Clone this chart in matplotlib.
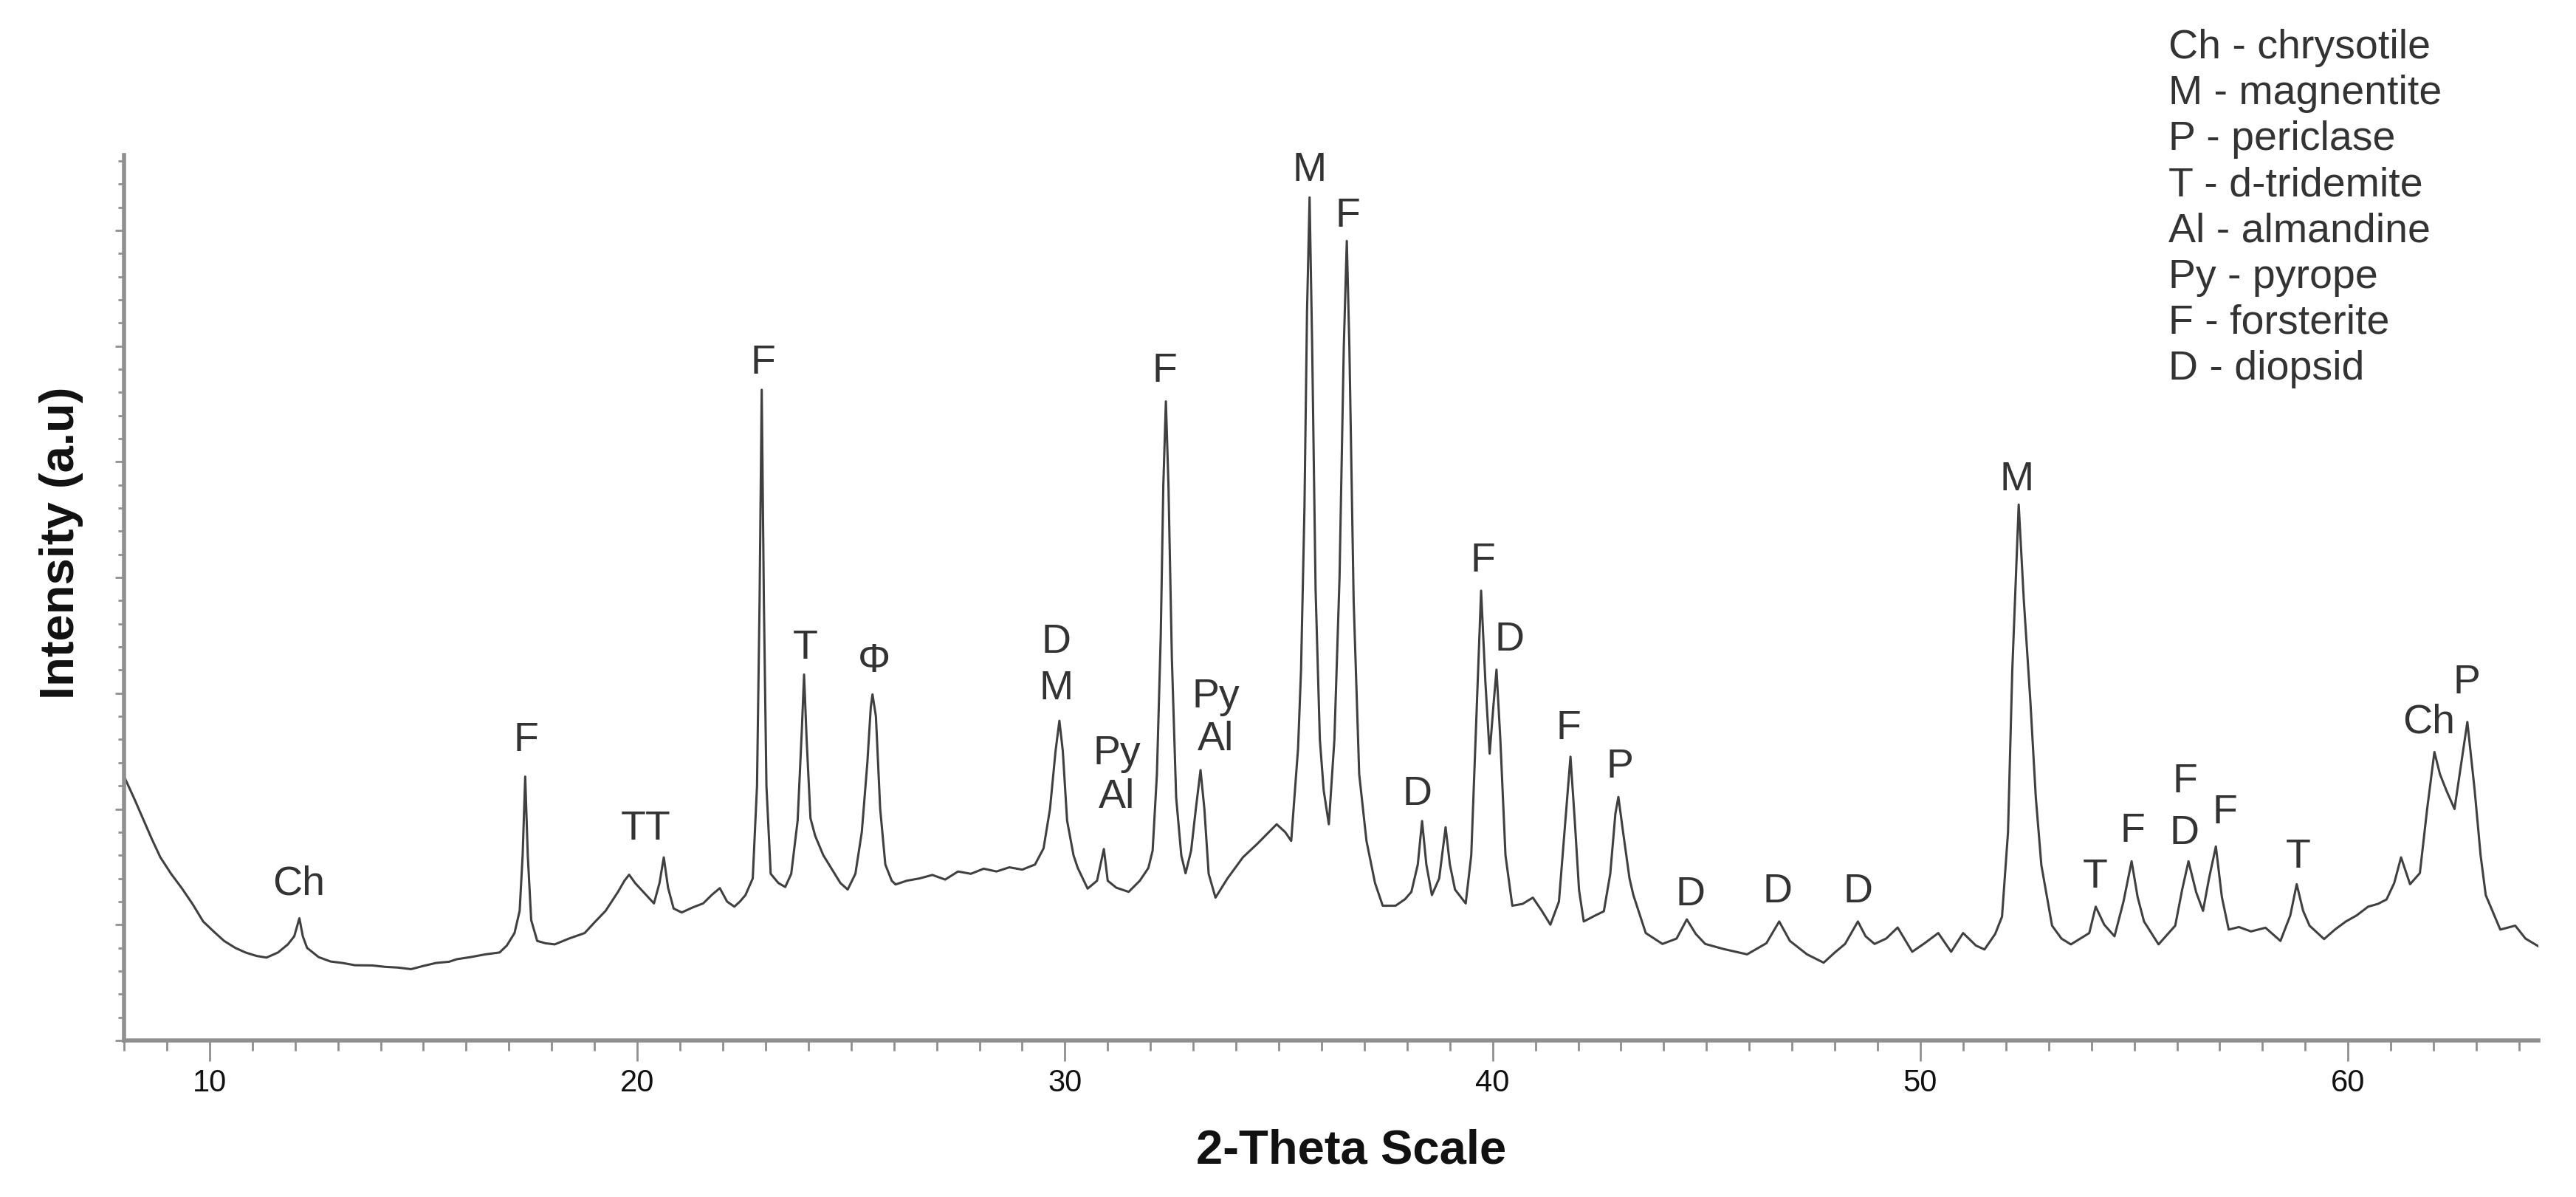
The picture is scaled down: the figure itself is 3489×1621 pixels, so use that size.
import matplotlib
matplotlib.use("Agg")
import matplotlib.pyplot as plt
from matplotlib.ticker import MultipleLocator

# XRD pattern (2-theta in degrees, intensity in a.u.)
two_theta = [
    8.02, 8.25, 8.45, 8.65, 8.85, 9.1, 9.35, 9.6, 9.85, 10.1, 10.34, 10.6, 10.84, 11.1, 11.33,
    11.6, 11.83, 11.98, 12.1, 12.18, 12.28, 12.55, 12.83, 13.1, 13.4, 13.81, 14.1, 14.4, 14.71,
    15.0, 15.3, 15.6, 15.78, 16.1, 16.45, 16.78, 16.95, 17.13, 17.25, 17.32, 17.38, 17.44, 17.52,
    17.66, 17.85, 18.07, 18.4, 18.77, 19.0, 19.26, 19.55, 19.7, 19.81, 19.95, 20.15, 20.39, 20.52,
    20.62, 20.72, 20.85, 21.04, 21.3, 21.54, 21.75, 21.93, 22.1, 22.27, 22.4, 22.53, 22.7, 22.8,
    22.86, 22.91, 22.96, 23.02, 23.12, 23.3, 23.46, 23.6, 23.75, 23.85, 23.9, 23.96, 24.05, 24.16,
    24.35, 24.55, 24.75, 24.92, 25.1, 25.25, 25.38, 25.46, 25.5, 25.58, 25.68, 25.8, 25.95, 26.04,
    26.3, 26.6, 26.9, 27.2, 27.5, 27.8, 28.1, 28.4, 28.7, 29.0, 29.3, 29.5, 29.65, 29.78, 29.87,
    29.95, 30.05, 30.2, 30.3, 30.53, 30.75, 30.91, 31.0, 31.2, 31.49, 31.75, 31.95, 32.05, 32.15,
    32.24, 32.3, 32.36, 32.42, 32.5, 32.6, 32.72, 32.82, 32.95, 33.06, 33.17, 33.26, 33.36, 33.52,
    33.8, 34.16, 34.5, 34.95, 35.15, 35.29, 35.45, 35.52, 35.6, 35.66, 35.72, 35.78, 35.86, 35.96,
    36.05, 36.17, 36.3, 36.42, 36.52, 36.59, 36.65, 36.75, 36.88, 37.05, 37.25, 37.43, 37.73,
    37.95, 38.1, 38.25, 38.35, 38.45, 38.58, 38.75, 38.9, 39.0, 39.12, 39.37, 39.5, 39.62, 39.73,
    39.83, 39.93, 40.02, 40.09, 40.18, 40.3, 40.46, 40.7, 40.94, 41.15, 41.35, 41.55, 41.7, 41.82,
    41.92, 42.02, 42.13, 42.4, 42.6, 42.75, 42.87, 42.94, 43.05, 43.2, 43.29, 43.58, 43.97, 44.3,
    44.54, 44.75, 44.97, 45.4, 45.95, 46.4, 46.7, 46.95, 47.35, 47.74, 48.0, 48.24, 48.54, 48.72,
    48.93, 49.2, 49.47, 49.81, 50.1, 50.42, 50.72, 51.0, 51.3, 51.5, 51.75, 51.91, 52.05, 52.15,
    52.3, 52.42, 52.57, 52.7, 52.83, 53.08, 53.3, 53.52, 53.95, 54.1, 54.3, 54.54, 54.75, 54.94,
    55.08, 55.23, 55.57, 55.96, 56.12, 56.27, 56.45, 56.61, 56.75, 56.91, 57.05, 57.21, 57.45,
    57.73, 58.07, 58.42, 58.65, 58.8, 58.95, 59.1, 59.44, 59.7, 59.95, 60.2, 60.47, 60.7, 60.9,
    61.08, 61.24, 61.45, 61.68, 61.85, 62.02, 62.15, 62.3, 62.49, 62.65, 62.79, 62.96, 63.1, 63.22,
    63.56, 63.91, 64.15, 64.45,
]
intensity = [
    1133, 1040, 955, 870, 791, 720, 658, 590, 514, 470, 430, 400, 380, 365, 358,
    380, 415, 450, 528, 450, 400, 360, 341, 335, 325, 324, 318, 315, 308,
    322, 335, 340, 351, 360, 372, 380, 410, 464, 560, 800, 1140, 800, 520,
    430, 420, 415, 440, 464, 510, 560, 642, 690, 716, 680, 640, 592, 680,
    791, 660, 570, 553, 575, 592, 630, 658, 600, 578, 600, 628, 700, 1100,
    1900, 2811, 1900, 1100, 720, 680, 663, 720, 950, 1350, 1581, 1300, 960, 884,
    800, 740, 680, 652, 720, 900, 1200, 1440, 1495, 1400, 1000, 760, 690, 674,
    690, 700, 715, 695, 730, 720, 742, 730, 748, 738, 760, 830, 1000, 1250, 1381,
    1250, 950, 800, 745, 656, 690, 827, 690, 660, 642, 690, 745, 820, 1150,
    1750, 2400, 2761, 2400, 1650, 1050, 800, 722, 820, 1000, 1168, 1000, 720, 617,
    700, 791, 850, 934, 900, 862, 1261, 1600, 2300, 3150, 3642, 3000, 1950, 1300,
    1080, 934, 1300, 2000, 3000, 3454, 3000, 1900, 1150, 862, 680, 582, 582,
    610, 642, 760, 948, 760, 628, 700, 921, 760, 652, 592, 800, 1400, 1943,
    1550, 1239, 1450, 1602, 1300, 800, 582, 590, 617, 560, 500, 600, 950, 1226,
    950, 650, 514, 540, 558, 720, 980, 1052, 900, 700, 628, 464, 417, 440,
    523, 460, 417, 395, 372, 420, 514, 430, 372, 336, 380, 417, 514, 450,
    417, 440, 488, 383, 420, 464, 383, 464, 410, 393, 460, 535, 900, 1600,
    2315, 1900, 1474, 1050, 757, 496, 440, 415, 464, 578, 500, 450, 600, 774,
    620, 514, 415, 496, 650, 774, 640, 560, 700, 838, 620, 479, 490,
    471, 487, 430, 540, 675, 560, 496, 438, 480, 514, 540, 578, 590, 609,
    680, 791, 675, 723, 1000, 1246, 1150, 1080, 1000, 1200, 1376, 1083, 800, 628,
    479, 496, 440, 407,
]

# peak labels: text, 2-theta, intensity of the label centre
peak_text = ["Ch", "F", "TT", "F", "T", "Φ", "D", "M", "Py", "Al", "F", "Py", "Al", "M", "F",
             "D", "F", "D", "F", "P", "D", "D", "D", "M", "T", "F", "F", "D", "F", "T", "Ch", "P"]
peak_x = [12.08, 17.4, 20.2, 22.94, 23.92, 25.54, 29.8, 29.8, 31.21, 31.21, 32.33, 33.53, 33.53,
          35.72, 36.61, 38.23, 39.77, 40.4, 41.77, 42.97, 44.62, 46.66, 48.54, 52.25, 54.08,
          54.97, 56.18, 56.18, 57.12, 58.83, 61.89, 62.78]
peak_y = [675, 1296, 912, 2926, 1694, 1637, 1719, 1519, 1239, 1051, 2891, 1484, 1298,
          3758, 3559, 1062, 2071, 1730, 1346, 1179, 628, 642, 642, 2422, 706,
          903, 1118, 894, 983, 791, 1374, 1545]

legend_lines = ["Ch - chrysotile", "M - magnentite", "P - periclase", "T - d-tridemite",
                "Al - almandine", "Py - pyrope", "F - forsterite", "D - diopsid"]

plain = "Liberation Sans"

W, H = 3489, 1621
fig = plt.figure(figsize=(W / 100, H / 100), dpi=100)
ax = fig.add_axes([168 / W, 1 - 1409 / H, (3438 - 168) / W, (1409 - 210) / H])

ax.plot(two_theta, intensity, color="#404040", lw=2.2)
ax.set_xlim(8.0, 64.45)
ax.set_ylim(0, 3825)

grey = "#8f8f8f"
for s in ["top", "right"]:
    ax.spines[s].set_visible(False)
for s in ["left", "bottom"]:
    ax.spines[s].set_color(grey)
    ax.spines[s].set_linewidth(4)

ax.xaxis.set_major_locator(MultipleLocator(10))
ax.xaxis.set_minor_locator(MultipleLocator(1))
ax.yaxis.set_major_locator(MultipleLocator(500))
ax.yaxis.set_minor_locator(MultipleLocator(100))
ax.tick_params(axis="x", which="major", direction="out", length=20, width=2, color=grey,
               labelsize=30, pad=7, labelcolor="#111111")
ax.tick_params(axis="x", which="minor", direction="out", length=10, width=2, color=grey)
ax.tick_params(axis="y", which="major", direction="out", length=9, width=2, color=grey,
               labelleft=False)
ax.tick_params(axis="y", which="minor", direction="out", length=6, width=2, color=grey)
for lab in ax.get_xticklabels():
    lab.set_fontfamily(plain)

for t, x, y in zip(peak_text, peak_x, peak_y):
    ax.text(x, y, t, ha="center", va="center", fontsize=40, family=[plain, "DejaVu Sans"],
            color="#333333")

for i, line in enumerate(legend_lines):
    fig.text(2937 / W, 1 - (78.6 + 62.2 * i) / H, line, ha="left", va="baseline",
             fontsize=40, family=plain, color="#333333")

fig.text(1830 / W, 1 - 1575 / H, "2-Theta Scale", ha="center", va="baseline",
         fontsize=47, fontweight="bold", family=plain, color="#111111")
fig.text(83 / W, 1 - 735 / H, "Intensity (a.u)", ha="center", va="center", rotation=90,
         fontsize=47, fontweight="bold", family=plain, color="#111111")

fig.savefig("out.png", dpi=100)
